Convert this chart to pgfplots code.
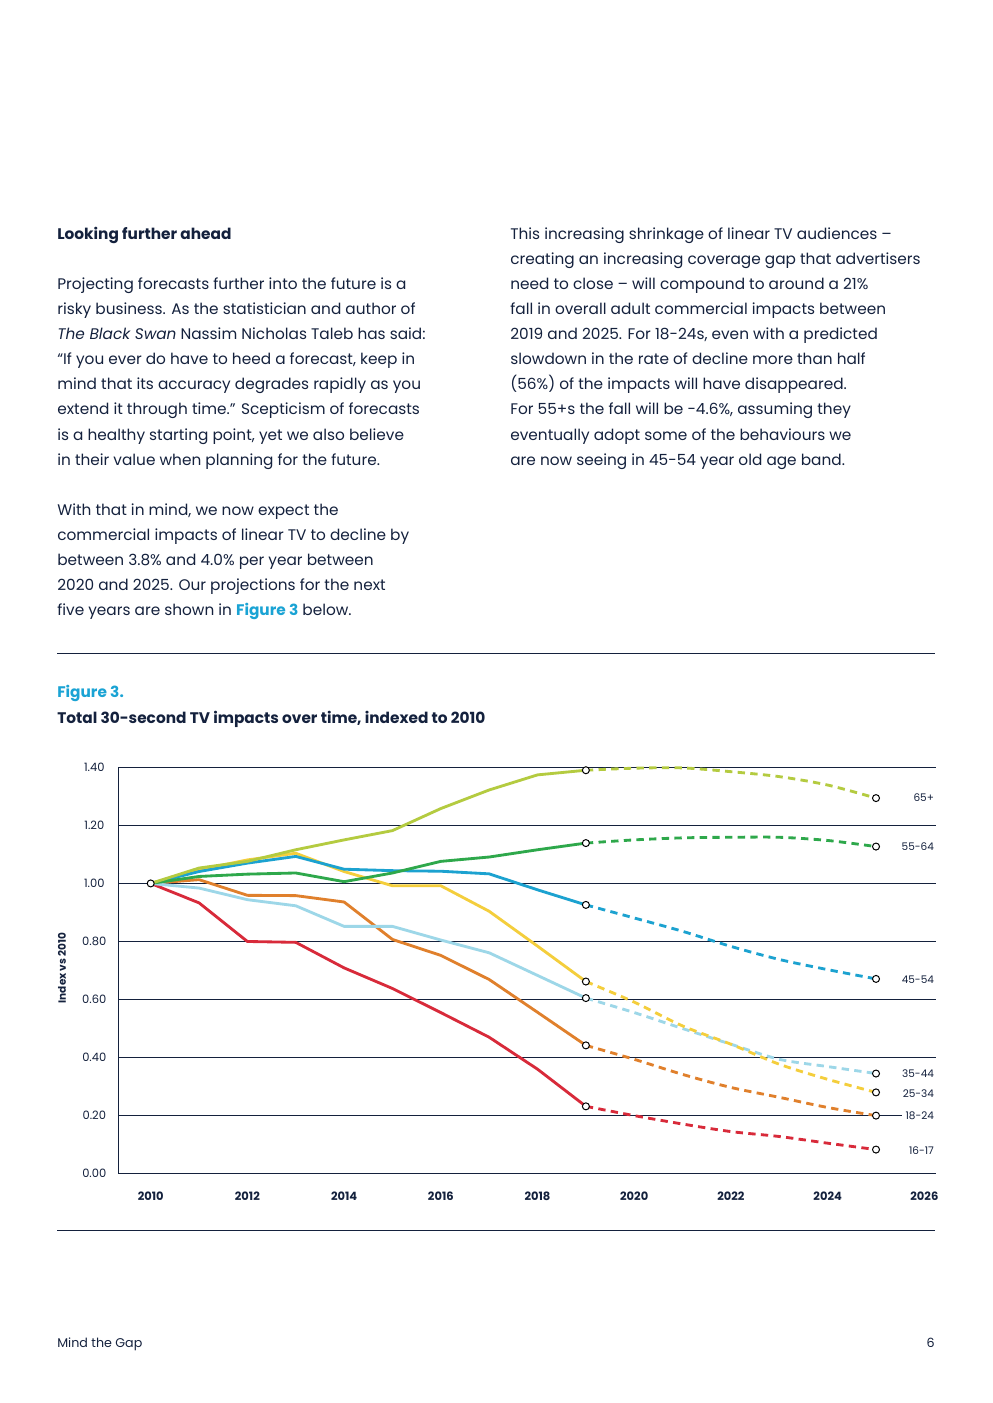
\documentclass[border=0pt]{standalone}
\usepackage{fontspec}
\setmainfont{Poppins}
\usepackage{pgfplots}
\pgfplotsset{compat=1.18}
\definecolor{navy}{HTML}{14213D}
\definecolor{cyanfig}{HTML}{1AA3D4}
\definecolor{cRed}{HTML}{D82A3A}
\definecolor{cOrange}{HTML}{E0802C}
\definecolor{cLight}{HTML}{9DD7E8}
\definecolor{cYellow}{HTML}{F4CE3C}
\definecolor{cBlue}{HTML}{1CA2D0}
\definecolor{cGreen}{HTML}{2EA84B}
\definecolor{cLime}{HTML}{B4CB40}
\newcommand\bodyfont{\fontsize{9.2}{11}\selectfont}
\newcommand\Ln[3]{\node[anchor=base west,inner sep=0pt,font=\bodyfont,text=navy] at (#1,#2) {#3};}
\begin{document}
\begin{tikzpicture}
\begin{scope}[x=0.6pt,y=-0.6pt]
\path[use as bounding box] (0,0) rectangle (992,1403);
\fill[white] (0,0) rectangle (992,1403);
% left column
\Ln{57}{240}{\textbf{Looking further ahead}}
\Ln{57}{290}{Projecting forecasts further into the future is a}
\Ln{57}{315}{risky business. As the statistician and author of}
\Ln{57}{340}{\textit{The Black Swan} Nassim Nicholas Taleb has said:}
\Ln{57}{365}{“If you ever do have to heed a forecast, keep in}
\Ln{57}{390}{mind that its accuracy degrades rapidly as you}
\Ln{57}{415}{extend it through time.” Scepticism of forecasts}
\Ln{57}{440}{is a healthy starting point, yet we also believe}
\Ln{57}{465}{in their value when planning for the future.}
\Ln{57}{515}{With that in mind, we now expect the}
\Ln{57}{540}{commercial impacts of linear TV to decline by}
\Ln{57}{565}{between 3.8\% and 4.0\% per year between}
\Ln{57}{590}{2020 and 2025. Our projections for the next}
\Ln{57}{615}{five years are shown in \textbf{\color{cyanfig}Figure 3} below.}
% right column
\Ln{510}{240}{This increasing shrinkage of linear TV audiences –}
\Ln{510}{265}{creating an increasing coverage gap that advertisers}
\Ln{510}{290}{need to close – will compound to around a 21\%}
\Ln{510}{315}{fall in overall adult commercial impacts between}
\Ln{510}{340}{2019 and 2025. For 18-24s, even with a predicted}
\Ln{510}{365}{slowdown in the rate of decline more than half}
\Ln{510}{390}{(56\%) of the impacts will have disappeared.}
\Ln{510}{415}{For 55+s the fall will be -4.6\%, assuming they}
\Ln{510}{440}{eventually adopt some of the behaviours we}
\Ln{510}{465}{are now seeing in 45-54 year old age band.}
% rules
\draw[navy,line width=0.6pt] (57,653) -- (935,653);
\draw[navy,line width=0.6pt] (57,1230) -- (935,1230);
% figure titles
\node[anchor=base west,inner sep=0pt,font=\bodyfont\bfseries,text=cyanfig] at (57,697) {Figure 3.};
\node[anchor=base west,inner sep=0pt,font=\bodyfont\bfseries,text=navy] at (57,723) {Total 30-second TV impacts over time, indexed to 2010};
% footer
\node[anchor=base west,inner sep=0pt,font=\fontsize{7.6}{9}\selectfont,text=navy] at (57,1347) {Mind the Gap};
\node[anchor=base east,inner sep=0pt,font=\fontsize{7.6}{9}\selectfont,text=navy] at (935,1347) {6};
\end{scope}
\begin{axis}[
  at={(70.98pt,-704.2pt)}, anchor=south west,
  scale only axis, width=490.6pt, height=243.8pt,
  xmin=2009.33, xmax=2026.24, ymin=0, ymax=1.4,
  clip=false,
  axis lines*=left,
  axis line style={navy,line width=0.8pt},
  ymajorgrids, grid style={navy,line width=0.6pt},
  major tick length=0pt,
  xtick={2010,2012,...,2026},
  ytick={0,0.2,0.4,0.6,0.8,1.0,1.2,1.4},
  /pgf/number format/assume math mode=true,
  xticklabel style={anchor=center,yshift=-13.8pt,font=\fontsize{6.9}{8}\selectfont\bfseries,text=navy,/pgf/number format/1000 sep={}},
  yticklabel style={anchor=center,xshift=-14.4pt,font=\fontsize{6.9}{8}\selectfont,text=navy,/pgf/number format/.cd,fixed,fixed zerofill,precision=2},
  ylabel={Index vs 2010},
  every axis y label/.style={at={(axis description cs:-0.0689,0.506)},rotate=90,anchor=center,font=\fontsize{6.3}{7}\selectfont\bfseries,text=navy},
  solid line/.style={line width=1.7pt,line join=round},
  dash line/.style={line width=1.7pt,smooth,dash pattern=on 4.4pt off 3.2pt},
]
% solid history 2010-2019
\addplot[solid line,cRed] coordinates {(2010,1.000)(2011,0.933)(2012,0.800)(2013,0.797)(2014,0.709)(2015,0.638)(2016,0.555)(2017,0.470)(2018,0.360)(2019,0.232)};
\addplot[solid line,cOrange] coordinates {(2010,1.000)(2011,1.013)(2012,0.959)(2013,0.958)(2014,0.936)(2015,0.807)(2016,0.752)(2017,0.669)(2018,0.556)(2019,0.442)};
\addplot[solid line,cLight] coordinates {(2010,1.000)(2011,0.984)(2012,0.944)(2013,0.923)(2014,0.852)(2015,0.852)(2016,0.805)(2017,0.761)(2018,0.683)(2019,0.605)};
\addplot[solid line,cYellow] coordinates {(2010,1.000)(2011,1.047)(2012,1.081)(2013,1.104)(2014,1.041)(2015,0.992)(2016,0.992)(2017,0.904)(2018,0.784)(2019,0.662)};
\addplot[solid line,cBlue] coordinates {(2010,1.000)(2011,1.041)(2012,1.070)(2013,1.093)(2014,1.049)(2015,1.044)(2016,1.042)(2017,1.033)(2018,0.978)(2019,0.926)};
\addplot[solid line,cGreen] coordinates {(2010,1.000)(2011,1.024)(2012,1.032)(2013,1.036)(2014,1.006)(2015,1.036)(2016,1.076)(2017,1.091)(2018,1.116)(2019,1.139)};
\addplot[solid line,cLime] coordinates {(2010,1.000)(2011,1.053)(2012,1.076)(2013,1.116)(2014,1.150)(2015,1.182)(2016,1.258)(2017,1.322)(2018,1.374)(2019,1.390)};
% dashed projections 2019-2025
\addplot[dash line,cRed] coordinates {(2019,0.232)(2020,0.200)(2021,0.171)(2022,0.145)(2023,0.128)(2024,0.105)(2025,0.083)};
\addplot[dash line,cOrange] coordinates {(2019,0.442)(2020,0.394)(2021,0.342)(2022,0.297)(2023,0.263)(2024,0.228)(2025,0.200)};
\addplot[dash line,cLight] coordinates {(2019,0.605)(2020,0.555)(2021,0.500)(2022,0.446)(2023,0.394)(2024,0.369)(2025,0.345)};
\addplot[dash line,cYellow] coordinates {(2019,0.662)(2020,0.591)(2021,0.509)(2022,0.446)(2023,0.377)(2024,0.325)(2025,0.280)};
\addplot[dash line,cBlue] coordinates {(2019,0.926)(2020,0.881)(2021,0.835)(2022,0.783)(2023,0.738)(2024,0.703)(2025,0.671)};
\addplot[dash line,cGreen] coordinates {(2019,1.139)(2020,1.150)(2021,1.157)(2022,1.159)(2023,1.159)(2024,1.148)(2025,1.127)};
\addplot[dash line,cLime] coordinates {(2019,1.390)(2020,1.397)(2021,1.398)(2022,1.385)(2023,1.368)(2024,1.339)(2025,1.294)};
% markers
\addplot[only marks,mark=*,mark size=2.1pt,mark options={fill=white,draw=black,line width=0.6pt}] coordinates {
(2010,1.000)
(2019,0.232)(2019,0.442)(2019,0.605)(2019,0.662)(2019,0.926)(2019,1.139)(2019,1.390)
(2025,0.083)(2025,0.200)(2025,0.345)(2025,0.280)(2025,0.671)(2025,1.127)(2025,1.294)};
% series labels
\begin{scope}[every node/.style={anchor=east,xshift=1pt,font=\fontsize{6.3}{7}\selectfont,text=navy,fill=white,inner xsep=2pt,inner ysep=1pt}]
\node at (axis cs:2026.24,1.295) {65+};
\node at (axis cs:2026.24,1.126) {55-64};
\node at (axis cs:2026.24,0.669) {45-54};
\node at (axis cs:2026.24,0.345) {35-44};
\node at (axis cs:2026.24,0.276) {25-34};
\node at (axis cs:2026.24,0.200) {18-24};
\node at (axis cs:2026.24,0.078) {16-17};
\end{scope}
\end{axis}
\end{tikzpicture}
\end{document}
